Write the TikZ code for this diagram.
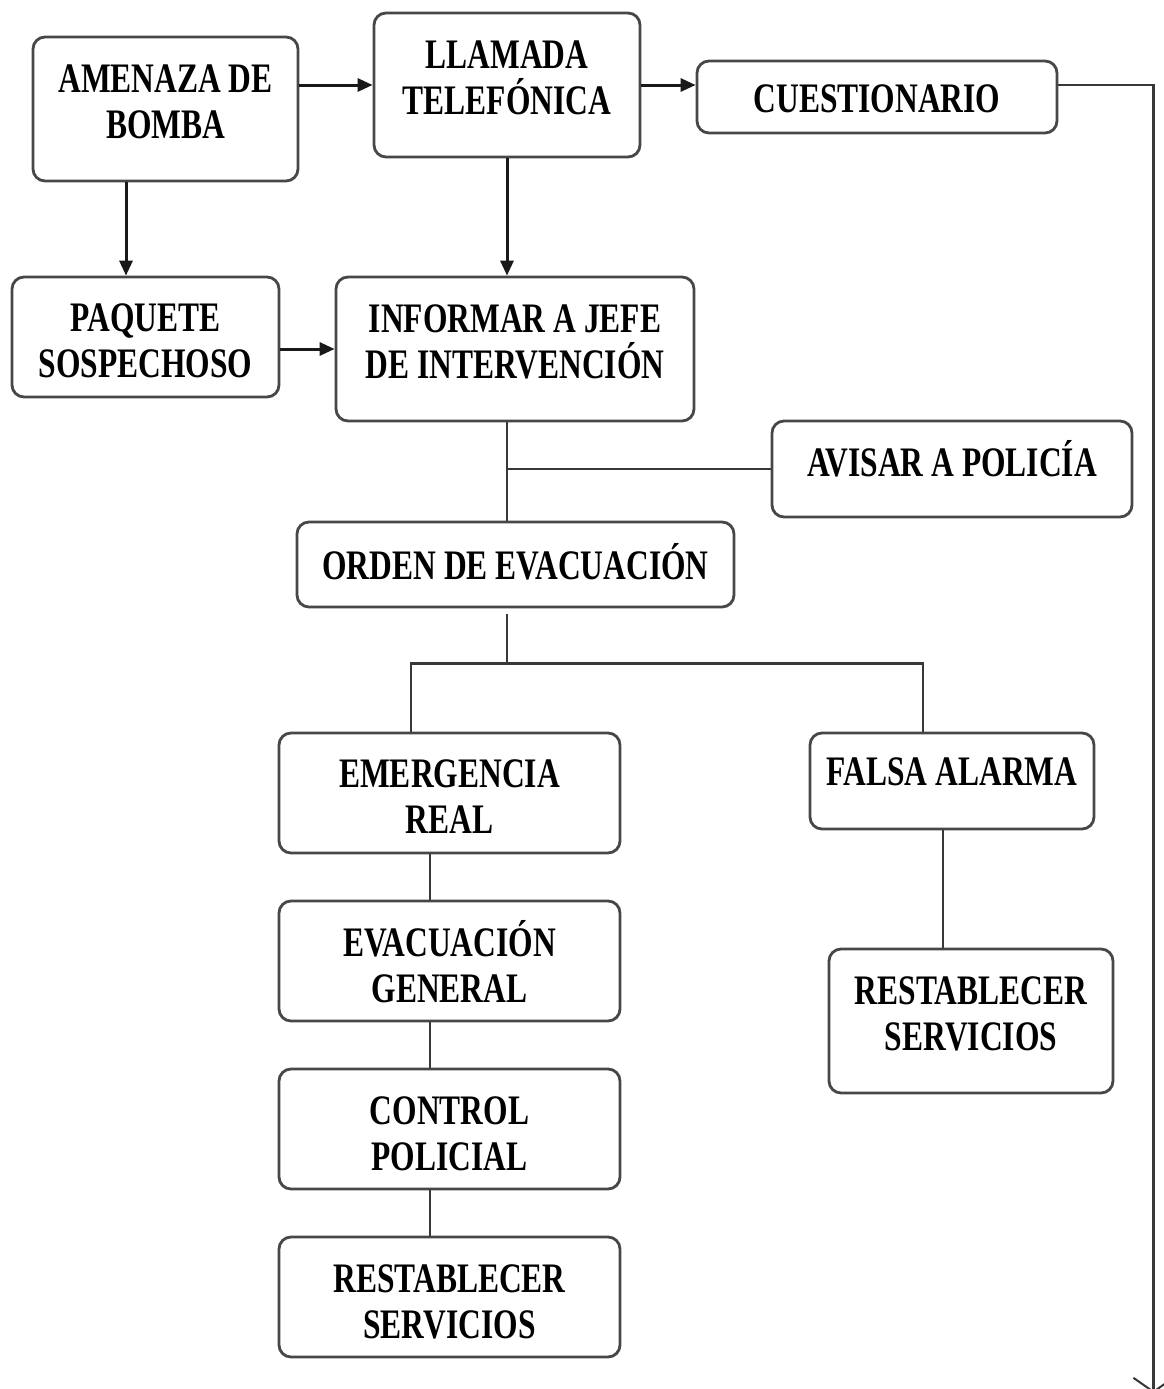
\documentclass[tikz,border=0pt]{standalone}
\usepackage{fontspec}
\setmainfont{Liberation Serif}[FakeStretch=0.75]
\usetikzlibrary{arrows.meta,calc}
\begin{document}
\begin{tikzpicture}[x=1pt,y=-1pt,
  box/.style={draw=black!72,line width=2.8pt,rounded corners=12pt,fill=white,inner sep=0pt},
  txt/.style={align=center,inner sep=0pt,text=black,
    font=\fontsize{42}{46}\selectfont\bfseries},
  conn/.style={draw=black!78,line width=2.5pt},
  arr/.style={draw=black!90,line width=3pt,-{Triangle[length=15pt,width=13pt]}}]
\useasboundingbox[fill=white] (0,0) rectangle (1163,1389);
% boxes
\node[box,minimum width=265pt,minimum height=144pt] (amenaza) at (165.5,109) {};
\node[box,minimum width=266pt,minimum height=144pt] (llamada) at (507,85) {};
\node[box,minimum width=360pt,minimum height=72pt] (cuest) at (877,97) {};
\node[box,minimum width=267pt,minimum height=120pt] (paquete) at (145.5,337) {};
\node[box,minimum width=358pt,minimum height=144pt] (informar) at (515,349) {};
\node[box,minimum width=360pt,minimum height=96pt] (avisar) at (952,469) {};
\node[box,minimum width=437pt,minimum height=85pt] (orden) at (515.5,564.5) {};
\node[box,minimum width=341pt,minimum height=120pt] (emerg) at (449.5,793) {};
\node[box,minimum width=284pt,minimum height=96pt] (falsa) at (952,781) {};
\node[box,minimum width=341pt,minimum height=120pt] (evac) at (449.5,961) {};
\node[box,minimum width=341pt,minimum height=120pt] (control) at (449.5,1129) {};
\node[box,minimum width=341pt,minimum height=120pt] (rest1) at (449.5,1297) {};
\node[box,minimum width=284pt,minimum height=144pt] (rest2) at (971,1021) {};
% texts
\node[txt] (amenaza-t) at ($(amenaza)+(0,-7)$) {AMENAZA DE\\BOMBA};
\node[txt] (llamada-t) at ($(llamada)+(0,-7)$) {LLAMADA\\TELEFÓNICA};
\node[txt] (cuest-t) at ($(cuest)+(0,2)$) {CUESTIONARIO};
\node[txt] (paquete-t) at ($(paquete)+(0,4)$) {PAQUETE\\SOSPECHOSO};
\node[txt] (informar-t) at ($(informar)+(0,-7)$) {INFORMAR A JEFE\\DE INTERVENCIÓN};
\node[txt] (avisar-t) at ($(avisar)+(0,-10)$) {AVISAR A POLICÍA};
\node[txt] (orden-t) at ($(orden)+(0,-3)$) {ORDEN DE EVACUACIÓN};
\node[txt] (emerg-t) at ($(emerg)+(0,4)$) {EMERGENCIA\\REAL};
\node[txt] (falsa-t) at ($(falsa)+(0,-9)$) {FALSA ALARMA};
\node[txt] (evac-t) at ($(evac)+(0,1)$) {EVACUACIÓN\\GENERAL};
\node[txt] (control-t) at ($(control)+(0,5)$) {CONTROL\\POLICIAL};
\node[txt] (rest1-t) at ($(rest1)+(0,5)$) {RESTABLECER\\SERVICIOS};
\node[txt] (rest2-t) at ($(rest2)+(0,-7)$) {RESTABLECER\\SERVICIOS};
% connectors
\draw[arr] (amenaza.east |- llamada.west) -- (llamada.west);
\draw[arr] (llamada.east) -- (llamada.east -| cuest.west);
\draw[arr] ([xshift=-39.5pt]amenaza.south) -- ([xshift=-19.5pt]paquete.north);
\draw[arr] (llamada.south) -- (llamada.south |- informar.north);
\draw[arr] (paquete.east |- informar.west) -- (informar.west);
\draw[conn] (llamada.south |- informar.south) -- (llamada.south |- orden.north);
\draw[conn] (llamada.south |- avisar.west) -- (avisar.west);
\coordinate (split) at ($(llamada.south |- orden.south)+(0,55)$);
\draw[conn] ($(llamada.south |- orden.south)+(0,6)$) -- (split);
\draw[conn] ([xshift=-38.5pt]emerg.north) |- (split) -| ([xshift=-29pt]falsa.north);
\draw[conn] ([xshift=-19.5pt]emerg.south) -- ([xshift=-19.5pt]evac.north);
\draw[conn] ([xshift=-19.5pt]evac.south) -- ([xshift=-19.5pt]control.north);
\draw[conn] ([xshift=-19.5pt]control.south) -- ([xshift=-19.5pt]rest1.north);
\draw[conn] ([xshift=-9pt]falsa.south) -- ([xshift=-28pt]rest2.north);
\coordinate (corner) at ($(cuest.east)+(95,-12)$);
\coordinate (endpt) at (corner |- 0,1393);
\draw[conn,-{Straight Barb[length=14pt,width=40pt,line width=2pt]}] (cuest.east |- corner) -- (corner) -- (endpt);
\end{tikzpicture}
\end{document}
